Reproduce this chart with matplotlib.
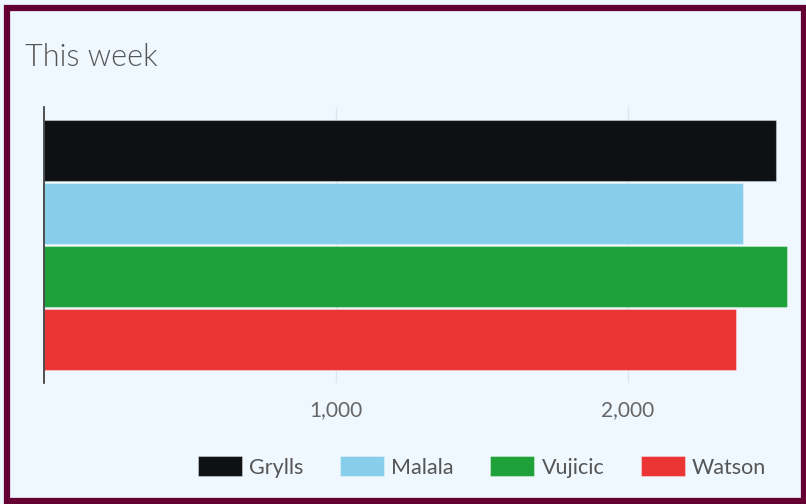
import matplotlib
matplotlib.use("Agg")
import matplotlib.pyplot as plt
from matplotlib.patches import Rectangle
from matplotlib.ticker import FuncFormatter
from matplotlib import font_manager as fm

plt.rcParams['font.family'] = ['Lato', 'DejaVu Sans']

series = ["Grylls", "Malala", "Vujicic", "Watson"]
values = [2507, 2394, 2548, 2373]
colors = ["#0d1113", "#87ceeb", "#1fa13a", "#eb3434"]
ticks = [1000, 2000]
title = "This week"

W, H = 806, 504
fig = plt.figure(figsize=(W / 100, H / 100), dpi=100)
fig.patch.set_facecolor("#f0f8ff")

# border
fig.add_artist(Rectangle((7.5 / W, 3 / H), (W - 10) / W, (H - 10.5) / H,
                         transform=fig.transFigure, fill=False,
                         edgecolor="#650032", linewidth=4.5))

ax = fig.add_axes([44 / W, (H - 383) / H, (791 - 44) / W, (383 - 107) / H])
ax.set_facecolor("#f0f8ff")

n = len(series)
for i, (s, v, c) in enumerate(zip(series, values, colors)):
    ax.barh(n - 1 - i, v, height=0.98, color=c, label=s,
            edgecolor=(1, 1, 1, 0.35), linewidth=0.8, zorder=2)

ax.set_ylim(-0.5 - 0.19, n - 0.5 + 0.19)
ax.set_xlim(0, 2560)
ax.set_xticks(ticks)
ax.xaxis.set_major_formatter(FuncFormatter(lambda x, p: f"{int(x):,}"))
ax.set_yticks([])
ax.grid(axis="x", color="#dce6ef", linewidth=1, zorder=0)
for sp in ["top", "right", "bottom"]:
    ax.spines[sp].set_visible(False)
ax.spines["left"].set_color("#333333")
ax.spines["left"].set_linewidth(1.2)
ax.tick_params(axis="x", length=0, pad=12, labelsize=15, labelcolor="#666666")

# title in Lato Light if available
light = None
for f in fm.findSystemFonts():
    base = f.split("/")[-1].lower()
    if base.startswith("lato") and "light" in base and "italic" not in base:
        light = f
        break
if light:
    tprops = fm.FontProperties(fname=light, size=22)
else:
    tprops = fm.FontProperties(family="Lato", size=22)
fig.text(25 / W, 1 - 57 / H, title, fontproperties=tprops,
         color="#555555", va="center", ha="left")

leg = fig.legend(loc="center", bbox_to_anchor=(482 / W, 1 - 467 / H), ncol=4,
                 frameon=False, fontsize=15.5, handlelength=2.05, handleheight=1.0,
                 handletextpad=0.33, columnspacing=1.7, labelcolor="#555555")

fig.savefig("out.png", dpi=100, facecolor=fig.get_facecolor())
